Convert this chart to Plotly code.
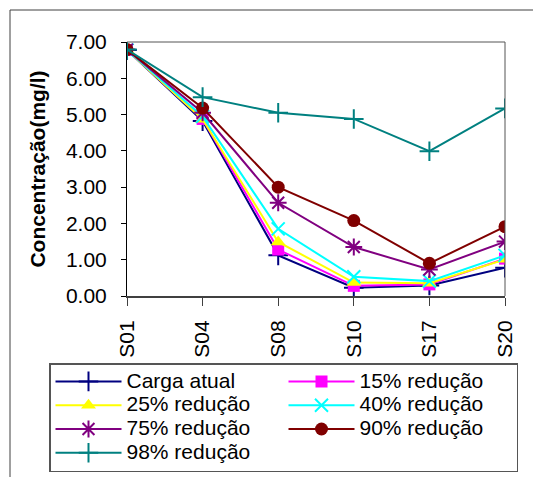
import plotly.graph_objects as go

# Sampling stations along the river
stations = ["S01", "S04", "S08", "S10", "S17", "S20"]

# Concentration (mg/l) for each load-reduction scenario
carga_atual = [6.78, 4.82, 1.12, 0.23, 0.29, 0.78]
red_15 = [6.78, 4.88, 1.28, 0.28, 0.32, 1.03]
red_25 = [6.78, 4.87, 1.49, 0.37, 0.35, 1.01]
red_40 = [6.78, 4.95, 1.85, 0.53, 0.41, 1.12]
red_75 = [6.79, 5.05, 2.57, 1.35, 0.73, 1.50]
red_90 = [6.79, 5.18, 3.00, 2.08, 0.90, 1.91]
red_98 = [6.79, 5.48, 5.05, 4.88, 3.99, 5.17]

y_ticks = [0, 1, 2, 3, 4, 5, 6, 7]

series = [
    ("Carga atual", carga_atual, "#000080", "cross-thin", 14),
    ("15% redução", red_15, "#FF00FF", "square", 12),
    ("25% redução", red_25, "#FFFF00", "triangle-up", 13),
    ("40% redução", red_40, "#00FFFF", "x-thin", 13),
    ("75% redução", red_75, "#800080", "asterisk", 14),
    ("90% redução", red_90, "#800000", "circle", 13),
    ("98% redução", red_98, "#008080", "cross-thin", 14),
]

FONT = "Liberation Sans, Arial, sans-serif"
LEGEND_TEXT = "<span style='font-size:21px'>{}</span>"

fig = go.Figure()
for name, vals, color, symbol, size in series:
    thin = symbol in ("cross-thin", "x-thin", "asterisk")
    fig.add_trace(go.Scatter(
        x=stations, y=vals, name=LEGEND_TEXT.format(name), mode="lines+markers",
        line=dict(color=color, width=2),
        marker=dict(symbol=symbol, size=size, color=color,
                    line=dict(color=color, width=2 if thin else 0)),
    ))

W, H = 533, 477
L, R, T, B = 127, 28, 42, 181
pw, ph = W - L - R, H - T - B

def px(x):
    return (x - L) / pw

def py(y):
    return (H - B - y) / ph

fig.update_layout(
    width=W, height=H,
    margin=dict(l=L, r=R, t=T, b=B, autoexpand=False),
    paper_bgcolor="white", plot_bgcolor="white",
    font=dict(family=FONT, size=21, color="black"),
    showlegend=True,
    legend=dict(
        orientation="h", x=px(49), y=py(363), xanchor="left", yanchor="top",
        entrywidth=152, entrywidthmode="pixels",
        font=dict(family=FONT, size=16, color="black"),
        bordercolor="#555555", borderwidth=1.5, bgcolor="white",
        itemwidth=66, tracegroupgap=0,
    ),
    xaxis=dict(
        type="category", range=[0, 5], showgrid=False, zeroline=False,
        showline=True, linecolor="#404040", linewidth=2,
        ticks="outside", ticklen=8, tickcolor="#404040", tickwidth=1,
        tickangle=-90, ticklabelstandoff=6,
        tickfont=dict(family=FONT, size=21),
    ),
    yaxis=dict(
        range=[0, 7], tickvals=y_ticks, tickformat=".2f", showgrid=False,
        zeroline=False, showline=True, linecolor="black", linewidth=1,
        ticks="outside", ticklen=5, tickcolor="black", tickwidth=1,
        ticklabelstandoff=10,
        tickfont=dict(family=FONT, size=21),
        title=dict(text="Concentração(mg/l)", standoff=14,
                   font=dict(family=FONT, size=21, weight="bold")),
    ),
    # companion axes carrying the inward half of the crossing tick marks
    xaxis2=dict(
        type="category", overlaying="x", matches="x", anchor="y2",
        range=[0, 5], showgrid=False, zeroline=False, showline=False,
        ticks="inside", ticklen=4, tickcolor="#404040", showticklabels=False,
    ),
    yaxis2=dict(
        overlaying="y", matches="y", anchor="x2", range=[0, 7],
        tickvals=y_ticks, showgrid=False, zeroline=False, showline=False,
        ticks="inside", ticklen=6, tickcolor="black", showticklabels=False,
    ),
    shapes=[
        # top and right edges of the plotting area
        dict(type="line", xref="paper", yref="paper", x0=0, x1=1, y0=1, y1=1,
             line=dict(color="#555555", width=1)),
        dict(type="line", xref="paper", yref="paper", x0=1, x1=1, y0=0, y1=1,
             line=dict(color="#555555", width=1)),
        # outer chart frame
        dict(type="rect", xref="paper", yref="paper",
             x0=px(10), x1=px(560), y0=py(10), y1=py(500),
             line=dict(color="#404040", width=1), layer="below"),
    ],
)

fig.write_html("out.html")
